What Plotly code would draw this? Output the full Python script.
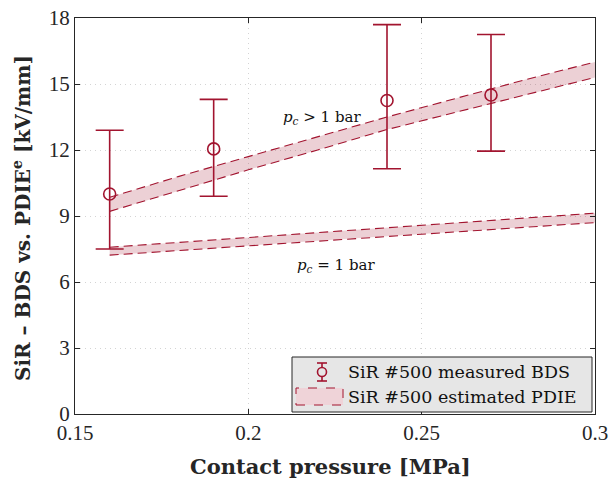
import plotly.graph_objects as go

# ---- data ----
pressure = [0.16, 0.19, 0.24, 0.27]
bds = [10.0, 12.05, 14.25, 14.5]
bds_upper = [12.9, 14.3, 17.7, 17.25]
bds_lower = [7.5, 9.9, 11.15, 11.95]

band_x = [0.16, 0.18, 0.20, 0.22, 0.24, 0.26, 0.28, 0.30]
hi_top = [9.85, 10.8, 11.7, 12.6, 13.5, 14.35, 15.2, 16.0]
hi_bot = [9.21, 10.15, 11.1, 12.0, 12.93, 13.72, 14.5, 15.3]
lo_top = [7.58, 7.8, 8.03, 8.25, 8.47, 8.7, 8.92, 9.13]
lo_bot = [7.22, 7.43, 7.65, 7.87, 8.08, 8.3, 8.5, 8.7]

xticks = [0.15, 0.2, 0.25, 0.3]
xticktext = ["0.15", "0.2", "0.25", "0.3"]
yticks = [0, 3, 6, 9, 12, 15, 18]

RED = "#A2142F"
FILL = "rgba(162,20,47,0.2)"
AX = "#262626"
TICKFONT = "Liberation Serif"
TXTFONT = "DejaVu Serif"

fig = go.Figure()

for top, bot in [(hi_top, hi_bot), (lo_top, lo_bot)]:
    fig.add_trace(go.Scatter(
        x=band_x + band_x[::-1], y=top + bot[::-1], fill="toself",
        fillcolor=FILL, line=dict(width=0), mode="lines",
        hoverinfo="skip", showlegend=False))
    for edge in (top, bot):
        fig.add_trace(go.Scatter(
            x=band_x, y=edge, mode="lines",
            line=dict(color=RED, width=1.1, dash="9px,5px"),
            showlegend=False))

fig.add_trace(go.Scatter(
    x=pressure, y=bds, mode="markers",
    marker=dict(symbol="circle-open", size=12, color=RED, line=dict(width=1.6, color=RED)),
    error_y=dict(type="data", symmetric=False,
                 array=[u - v for u, v in zip(bds_upper, bds)],
                 arrayminus=[v - l for v, l in zip(bds, bds_lower)],
                 color=RED, thickness=1.6, width=14),
    showlegend=False))

# curve labels
fig.add_annotation(x=0.2213, y=13.5, text="<i>p</i><sub><i>c</i></sub> > 1 bar",
                   showarrow=False, font=dict(family=TXTFONT, size=15, color="#111"))
fig.add_annotation(x=0.2253, y=6.73, text="<i>p</i><sub><i>c</i></sub> = 1 bar",
                   showarrow=False, font=dict(family=TXTFONT, size=15, color="#111"))

# pixel -> paper helpers
def px2x(p):
    return (p - 75) / 520.0

def py2y(p):
    return (414 - p) / 396.0

# axis titles
fig.add_annotation(xref="paper", yref="paper", x=px2x(330), y=py2y(466),
                   text="<b>Contact pressure [MPa]</b>", showarrow=False,
                   xanchor="center", yanchor="middle",
                   font=dict(family=TXTFONT, size=21, color=AX))
fig.add_annotation(xref="paper", yref="paper", x=px2x(22), y=py2y(218),
                   text="<b>SiR \u2013 BDS vs. PDIE<sup>e</sup> [kV/mm]</b>", showarrow=False,
                   textangle=-90, xanchor="center", yanchor="middle",
                   font=dict(family=TXTFONT, size=20, color=AX))

# custom legend
shapes = []
shapes.append(dict(type="rect", xref="paper", yref="paper",
                   x0=px2x(292), x1=px2x(592), y0=py2y(412), y1=py2y(357),
                   fillcolor="#e6e6e6", line=dict(color=AX, width=1)))
shapes.append(dict(type="line", xref="paper", yref="paper",
                   x0=px2x(322), x1=px2x(322), y0=py2y(363), y1=py2y(381),
                   line=dict(color=RED, width=1.6)))
for yy in (363, 381):
    shapes.append(dict(type="line", xref="paper", yref="paper",
                       x0=px2x(317), x1=px2x(327), y0=py2y(yy), y1=py2y(yy),
                       line=dict(color=RED, width=1.6)))
shapes.append(dict(type="circle", xref="paper", yref="paper",
                   x0=px2x(317.5), x1=px2x(326.5), y0=py2y(367.5), y1=py2y(376.5),
                   fillcolor="#e6e6e6", line=dict(color=RED, width=1.6)))
shapes.append(dict(type="rect", xref="paper", yref="paper",
                   x0=px2x(296), x1=px2x(343), y0=py2y(405), y1=py2y(388),
                   fillcolor="#efd3d8", line=dict(color=RED, width=1, dash="dash")))

fig.add_annotation(xref="paper", yref="paper", x=px2x(346), y=py2y(372),
                   xanchor="left", yanchor="middle", showarrow=False,
                   text="SiR #500 measured BDS", font=dict(family=TXTFONT, size=17.5, color="#111"))
fig.add_annotation(xref="paper", yref="paper", x=px2x(346), y=py2y(397),
                   xanchor="left", yanchor="middle", showarrow=False,
                   text="SiR #500 estimated PDIE", font=dict(family=TXTFONT, size=17.5, color="#111"))

GRID = dict(showgrid=True, gridcolor="#d4d4d4", griddash="1px,4px", gridwidth=1)

fig.update_layout(
    width=610, height=479,
    margin=dict(l=75, r=15, t=18, b=65, autoexpand=False),
    plot_bgcolor="white", paper_bgcolor="white",
    shapes=shapes,
    font=dict(family=TICKFONT, color=AX),
    xaxis=dict(range=[0.15, 0.3], tickvals=xticks, ticktext=xticktext,
               ticks="inside", ticklen=5, tickcolor=AX, mirror="ticks",
               showline=True, linecolor=AX, linewidth=1, automargin=False,
               zeroline=False, tickfont=dict(size=21, family=TICKFONT, color=AX), **GRID),
    yaxis=dict(range=[0, 18], tickvals=yticks,
               ticks="inside", ticklen=5, tickcolor=AX, mirror="ticks",
               showline=True, linecolor=AX, linewidth=1, automargin=False,
               zeroline=False, tickfont=dict(size=21, family=TICKFONT, color=AX), **GRID),
)

fig.write_html("out.html")
